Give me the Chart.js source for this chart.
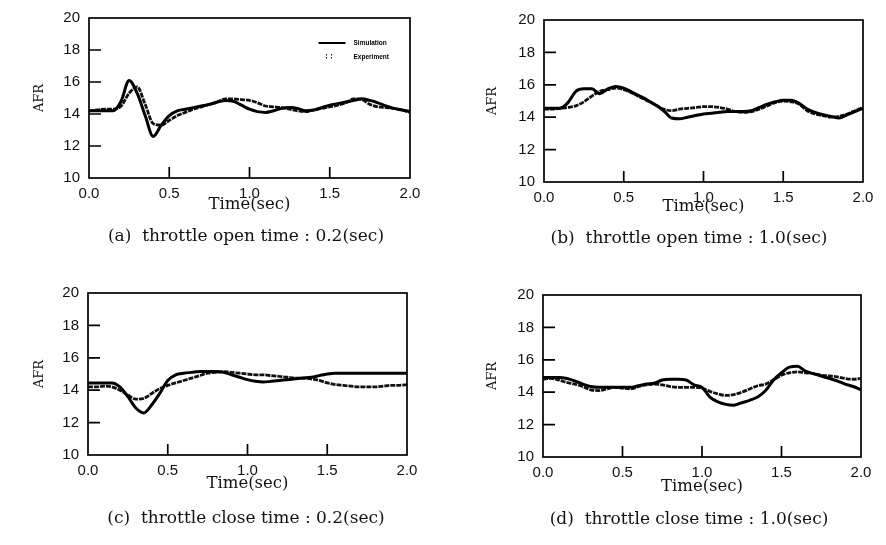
<!DOCTYPE html>
<html>
<head>
<meta charset="utf-8">
<script src="https://cdn.jsdelivr.net/npm/chart.js@4.4.1/dist/chart.umd.min.js"></script>
<style>
  body { margin: 0; background: #fff; }
  #wrap { position: relative; width: 886px; height: 545px; overflow: hidden; }
  canvas { position: absolute; left: 0; top: 0; }
  .cap { position: absolute; font-family: "DejaVu Serif", serif; font-size: 17px; color: #111; white-space: pre; transform: translate(-50%, -50%); }
</style>
</head>
<body>
<div id="wrap">
  <canvas id="ca" width="886" height="545"></canvas>
  <canvas id="cb" width="886" height="545"></canvas>
  <canvas id="cc" width="886" height="545"></canvas>
  <canvas id="cd" width="886" height="545"></canvas>
  <div class="cap" style="left:246px; top:235px;">(a)  throttle open time : 0.2(sec)</div>
  <div class="cap" style="left:689px; top:237px;">(b)  throttle open time : 1.0(sec)</div>
  <div class="cap" style="left:246px; top:517px;">(c)  throttle close time : 0.2(sec)</div>
  <div class="cap" style="left:689px; top:518px;">(d)  throttle close time : 1.0(sec)</div>
</div>
<script>
// sample times (sec)
const time = [0, 0.05, 0.1, 0.15, 0.2, 0.25, 0.3, 0.35, 0.4, 0.45, 0.5, 0.55, 0.6, 0.65, 0.7, 0.75, 0.8, 0.85, 0.9, 0.95,
  1.0, 1.05, 1.1, 1.15, 1.2, 1.25, 1.3, 1.35, 1.4, 1.45, 1.5, 1.55, 1.6, 1.65, 1.7, 1.75, 1.8, 1.85, 1.9, 1.95, 2.0];

const xTicks = [0, 0.5, 1.0, 1.5, 2.0];
const yTicks = [10, 12, 14, 16, 18, 20];

// (a) throttle open 0.2 sec
const simA = [14.2, 14.2, 14.2, 14.2, 14.8, 16.1, 15.3, 13.9, 12.6, 13.3, 13.9, 14.2, 14.3, 14.4, 14.5, 14.6, 14.75, 14.85, 14.8, 14.55,
  14.3, 14.15, 14.1, 14.2, 14.35, 14.4, 14.35, 14.2, 14.25, 14.4, 14.55, 14.65, 14.75, 14.85, 14.95, 14.85, 14.7, 14.5, 14.35, 14.25, 14.15];
const expA = [14.2, 14.25, 14.3, 14.3, 14.5, 15.3, 15.7, 14.6, 13.4, 13.3, 13.6, 13.9, 14.1, 14.3, 14.45, 14.6, 14.75, 14.95, 14.95, 14.9,
  14.85, 14.7, 14.5, 14.45, 14.4, 14.3, 14.2, 14.15, 14.25, 14.35, 14.45, 14.55, 14.7, 14.95, 14.9, 14.6, 14.45, 14.4, 14.35, 14.25, 14.1];

// (b) throttle open 1.0 sec
const simB = [14.55, 14.55, 14.55, 14.9, 15.6, 15.75, 15.75, 15.45, 15.75, 15.9, 15.8, 15.55, 15.3, 15.05, 14.75, 14.4, 13.95, 13.9, 14.0, 14.1,
  14.2, 14.25, 14.3, 14.35, 14.35, 14.35, 14.4, 14.6, 14.8, 14.95, 15.05, 15.05, 14.85, 14.5, 14.3, 14.15, 14.05, 13.95, 14.15, 14.35, 14.55];
const expB = [14.5, 14.5, 14.55, 14.6, 14.7, 14.95, 15.3, 15.6, 15.7, 15.8, 15.7, 15.5, 15.25, 15.0, 14.75, 14.5, 14.4, 14.5, 14.55, 14.6,
  14.65, 14.65, 14.6, 14.5, 14.35, 14.3, 14.35, 14.5, 14.7, 14.9, 15.0, 14.95, 14.8, 14.4, 14.2, 14.1, 14.0, 14.05, 14.2, 14.4, 14.6];

// (c) throttle close 0.2 sec
const simC = [14.45, 14.45, 14.45, 14.45, 14.2, 13.6, 12.9, 12.6, 13.1, 13.8, 14.6, 14.95, 15.05, 15.1, 15.15, 15.15, 15.15, 15.1, 14.95, 14.8,
  14.65, 14.55, 14.5, 14.55, 14.6, 14.65, 14.7, 14.75, 14.8, 14.9, 15.0, 15.05, 15.05, 15.05, 15.05, 15.05, 15.05, 15.05, 15.05, 15.05, 15.05];
const expC = [14.2, 14.2, 14.25, 14.2, 14.0, 13.7, 13.45, 13.5, 13.8, 14.1, 14.3, 14.45, 14.6, 14.75, 14.9, 15.05, 15.1, 15.15, 15.1, 15.05,
  15.0, 14.95, 14.95, 14.9, 14.85, 14.8, 14.75, 14.75, 14.7, 14.6, 14.45, 14.35, 14.3, 14.25, 14.2, 14.2, 14.2, 14.25, 14.3, 14.3, 14.35];

// (d) throttle close 1.0 sec
const simD = [14.9, 14.9, 14.9, 14.85, 14.7, 14.5, 14.35, 14.3, 14.3, 14.3, 14.3, 14.3, 14.4, 14.5, 14.55, 14.75, 14.8, 14.8, 14.75, 14.45,
  14.3, 13.7, 13.4, 13.25, 13.2, 13.35, 13.5, 13.7, 14.1, 14.75, 15.2, 15.55, 15.6, 15.3, 15.15, 15.0, 14.85, 14.7, 14.5, 14.35, 14.15];
const expD = [14.8, 14.85, 14.75, 14.6, 14.5, 14.35, 14.15, 14.1, 14.2, 14.3, 14.25, 14.2, 14.35, 14.45, 14.5, 14.45, 14.35, 14.3, 14.3, 14.3,
  14.25, 14.05, 13.9, 13.8, 13.85, 14.0, 14.2, 14.4, 14.5, 14.75, 15.05, 15.2, 15.25, 15.2, 15.15, 15.05, 15.0, 14.95, 14.85, 14.8, 14.85];

// box frame, inner tick marks, small legend
const frame = {
  id: 'frame',
  afterDatasetsDraw(chart, args, opts) {
    const { ctx, chartArea: a, scales: { x, y } } = chart;
    ctx.save();
    ctx.strokeStyle = '#000';
    ctx.lineWidth = 1.7;
    ctx.strokeRect(a.left, a.top, a.width, a.height);
    ctx.beginPath();
    y.ticks.forEach(t => {
      if (t.value > y.min && t.value < y.max) {
        const py = y.getPixelForValue(t.value);
        ctx.moveTo(a.left, py);
        ctx.lineTo(a.left + 12, py);
      }
    });
    x.ticks.forEach(t => {
      if (t.value > x.min && t.value < x.max) {
        const px = x.getPixelForValue(t.value);
        ctx.moveTo(px, a.bottom);
        ctx.lineTo(px, a.bottom - 11);
      }
    });
    ctx.stroke();

    if (opts.legend) {
      const lx = a.left + a.width * 0.715, ly = a.top + 25;
      ctx.font = 'bold 6.5px "Liberation Sans", Arial, sans-serif';
      ctx.textBaseline = 'middle';
      ctx.fillStyle = '#000';
      chart.data.datasets.forEach((ds, i) => {
        const yy = ly + i * 14;
        ctx.beginPath();
        ctx.lineWidth = 2;
        ctx.strokeStyle = ds.borderColor;
        if (i === 0) {
          ctx.moveTo(lx, yy); ctx.lineTo(lx + 27, yy);
        } else {
          ctx.setLineDash([1.5, 1.5]);
          ctx.lineWidth = 1;
          ctx.moveTo(lx + 8, yy - 3); ctx.lineTo(lx + 8, yy + 3);
          ctx.moveTo(lx + 13, yy - 3); ctx.lineTo(lx + 13, yy + 3);
        }
        ctx.stroke();
        ctx.setLineDash([]);
        ctx.fillText(ds.label, lx + 35, yy);
      });
    }
    ctx.restore();
  }
};

function makePanel(id, sim, exp, box, legend) {
  const tickFont = { family: '"Liberation Sans", Arial, sans-serif', size: 15 };
  const titleFont = { family: '"DejaVu Serif", serif', size: 16.5 };
  new Chart(document.getElementById(id), {
    type: 'line',
    data: {
      datasets: [
        {
          label: 'Simulation',
          data: time.map((t, i) => ({ x: t, y: sim[i] })),
          borderColor: '#000',
          borderWidth: 3,
          pointRadius: 0,
          tension: 0.25,
          cubicInterpolationMode: 'monotone'
        },
        {
          label: 'Experiment',
          data: time.map((t, i) => ({ x: t, y: exp[i] })),
          borderColor: '#111',
          borderWidth: 2.8,
          borderDash: [5, 1],
          pointRadius: 0,
          tension: 0.25,
          cubicInterpolationMode: 'monotone'
        }
      ]
    },
    options: {
      responsive: false,
      animation: false,
      devicePixelRatio: 1,
      layout: {
        padding: { left: box.axisLeft, top: box.top, right: 886 - box.right, bottom: 545 - box.bottom - box.xh }
      },
      plugins: {
        legend: { display: false },
        tooltip: { enabled: false },
        frame: { legend: legend }
      },
      scales: {
        x: {
          type: 'linear',
          min: 0,
          max: 2,
          afterBuildTicks: s => { s.ticks = xTicks.map(v => ({ value: v })); },
          afterFit: s => { s.height = box.xh; },
          grid: { display: false, drawTicks: false },
          border: { display: false },
          ticks: { color: '#111', font: tickFont, padding: 7, maxRotation: 0, callback: v => v.toFixed(1) },
          title: { display: true, text: 'Time(sec)', color: '#111', font: titleFont, padding: 0 }
        },
        y: {
          min: 10,
          max: 20,
          afterBuildTicks: s => { s.ticks = yTicks.map(v => ({ value: v })); },
          afterFit: s => { s.width = box.left - box.axisLeft; },
          grid: { display: false, drawTicks: false },
          border: { display: false },
          ticks: { color: '#111', font: tickFont, padding: 9 },
          title: { display: true, text: 'AFR', color: '#111', font: { family: '"DejaVu Serif", serif', size: 13 }, padding: 0 }
        }
      }
    },
    plugins: [frame]
  });
}

makePanel('ca', simA, expA, { left: 89, right: 410, top: 16, bottom: 178, axisLeft: 32, xh: 37 }, true);
makePanel('cb', simB, expB, { left: 544, right: 863, top: 20, bottom: 182, axisLeft: 485, xh: 35 }, false);
makePanel('cc', simC, expC, { left: 88, right: 407, top: 293, bottom: 455, axisLeft: 32, xh: 39 }, false);
makePanel('cd', simD, expD, { left: 543, right: 861, top: 295, bottom: 457, axisLeft: 485, xh: 40 }, false);
</script>
</body>
</html>
